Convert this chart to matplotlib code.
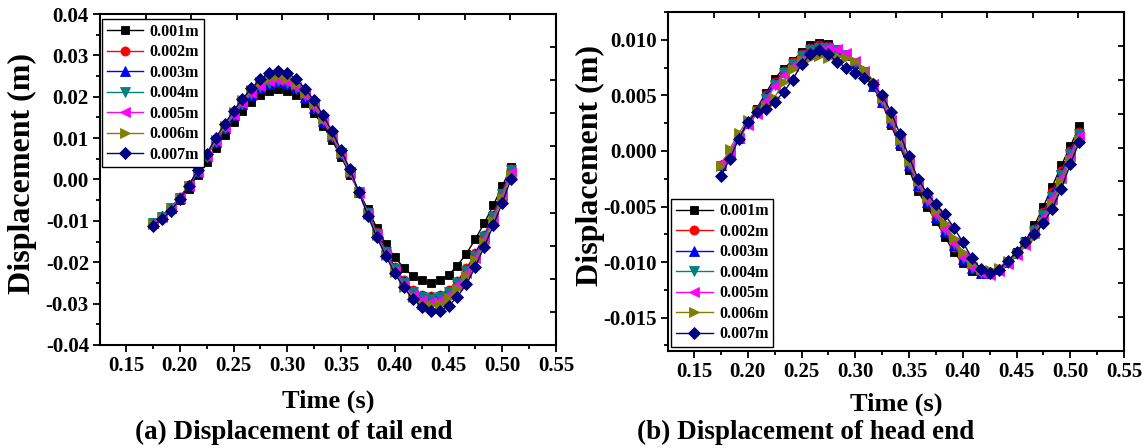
import matplotlib
matplotlib.use("Agg")
import matplotlib.pyplot as plt
from matplotlib.ticker import MultipleLocator, FuncFormatter

plt.rcParams['font.family'] = ['Liberation Serif', 'DejaVu Serif']
plt.rcParams['font.weight'] = 'bold'
plt.rcParams['axes.labelweight'] = 'bold'

# ---------------------------------------------------------------- data
time_s = [0.1750, 0.1833, 0.1917, 0.2000, 0.2083, 0.2167, 0.2250, 0.2333,
          0.2417, 0.2500, 0.2583, 0.2667, 0.2750, 0.2833, 0.2917, 0.3000,
          0.3083, 0.3167, 0.3250, 0.3333, 0.3417, 0.3500, 0.3583, 0.3667,
          0.3750, 0.3833, 0.3917, 0.4000, 0.4083, 0.4167, 0.4250, 0.4333,
          0.4417, 0.4500, 0.4583, 0.4667, 0.4750, 0.4833, 0.4917, 0.5000,
          0.5083]

series_labels = ['0.001m', '0.002m', '0.003m', '0.004m', '0.005m', '0.006m', '0.007m']

# tail end displacement (m)
tail_001 = [-0.0105, -0.0090, -0.0072, -0.0050, -0.0022, 0.0012, 0.0042, 0.0076,
            0.0108, 0.0139, 0.0166, 0.0188, 0.0204, 0.0215, 0.0218, 0.0215,
            0.0204, 0.0185, 0.0160, 0.0130, 0.0095, 0.0055, 0.0012, -0.0030,
            -0.0072, -0.0117, -0.0156, -0.0188, -0.0213, -0.0233, -0.0244, -0.0249,
            -0.0244, -0.0231, -0.0208, -0.0179, -0.0144, -0.0105, -0.0062, -0.0016,
            0.0030]
tail_002 = [-0.0104, -0.0088, -0.0068, -0.0043, -0.0013, 0.0021, 0.0057, 0.0092,
            0.0125, 0.0155, 0.0182, 0.0204, 0.0221, 0.0231, 0.0234, 0.0230,
            0.0218, 0.0198, 0.0172, 0.0140, 0.0103, 0.0062, 0.0018, -0.0030,
            -0.0079, -0.0127, -0.0172, -0.0211, -0.0243, -0.0266, -0.0278, -0.0282,
            -0.0279, -0.0266, -0.0245, -0.0215, -0.0178, -0.0134, -0.0085, -0.0032,
            0.0026]
tail_003 = [-0.0105, -0.0089, -0.0069, -0.0044, -0.0014, 0.0020, 0.0056, 0.0091,
            0.0124, 0.0155, 0.0182, 0.0205, 0.0222, 0.0232, 0.0236, 0.0232,
            0.0220, 0.0200, 0.0174, 0.0142, 0.0104, 0.0063, 0.0018, -0.0030,
            -0.0080, -0.0129, -0.0174, -0.0214, -0.0246, -0.0269, -0.0282, -0.0285,
            -0.0282, -0.0269, -0.0248, -0.0218, -0.0181, -0.0137, -0.0088, -0.0034,
            0.0024]
tail_004 = [-0.0106, -0.0090, -0.0070, -0.0045, -0.0015, 0.0019, 0.0055, 0.0091,
            0.0124, 0.0155, 0.0183, 0.0206, 0.0223, 0.0233, 0.0237, 0.0233,
            0.0221, 0.0201, 0.0175, 0.0143, 0.0105, 0.0063, 0.0018, -0.0031,
            -0.0081, -0.0131, -0.0176, -0.0216, -0.0249, -0.0272, -0.0285, -0.0289,
            -0.0285, -0.0272, -0.0251, -0.0221, -0.0184, -0.0140, -0.0090, -0.0036,
            0.0022]
tail_005 = [-0.0106, -0.0090, -0.0070, -0.0045, -0.0015, 0.0019, 0.0056, 0.0092,
            0.0126, 0.0157, 0.0185, 0.0209, 0.0227, 0.0237, 0.0240, 0.0236,
            0.0223, 0.0202, 0.0175, 0.0142, 0.0104, 0.0062, 0.0016, -0.0033,
            -0.0084, -0.0134, -0.0180, -0.0221, -0.0254, -0.0278, -0.0291, -0.0295,
            -0.0291, -0.0278, -0.0256, -0.0226, -0.0189, -0.0145, -0.0095, -0.0040,
            0.0018]
tail_006 = [-0.0108, -0.0092, -0.0072, -0.0046, -0.0015, 0.0020, 0.0058, 0.0095,
            0.0130, 0.0162, 0.0191, 0.0216, 0.0235, 0.0246, 0.0250, 0.0246,
            0.0232, 0.0210, 0.0182, 0.0147, 0.0108, 0.0065, 0.0019, -0.0031,
            -0.0084, -0.0135, -0.0182, -0.0224, -0.0259, -0.0285, -0.0300, -0.0304,
            -0.0300, -0.0287, -0.0264, -0.0234, -0.0195, -0.0150, -0.0100, -0.0045,
            0.0012]
tail_007 = [-0.0112, -0.0096, -0.0075, -0.0048, -0.0015, 0.0023, 0.0062, 0.0100,
            0.0134, 0.0166, 0.0195, 0.0220, 0.0243, 0.0257, 0.0263, 0.0258,
            0.0243, 0.0219, 0.0191, 0.0155, 0.0117, 0.0071, 0.0025, -0.0031,
            -0.0088, -0.0140, -0.0185, -0.0227, -0.0261, -0.0289, -0.0307, -0.0317,
            -0.0317, -0.0306, -0.0283, -0.0253, -0.0211, -0.0162, -0.0111, -0.0056,
            0.0002]

# head end displacement (m)
head_001 = [-0.0014, -0.0002, 0.0012, 0.0026, 0.0038, 0.0052, 0.0065, 0.0074,
            0.0081, 0.0089, 0.0095, 0.0097, 0.0096, 0.0092, 0.0086, 0.0078,
            0.0069, 0.0058, 0.0043, 0.0023, 0.0004, -0.0017, -0.0036, -0.0050,
            -0.0063, -0.0077, -0.0091, -0.0101, -0.0108, -0.0111, -0.0110, -0.0106,
            -0.0100, -0.0091, -0.0081, -0.0067, -0.0050, -0.0032, -0.0013, 0.0004,
            0.0022]
head_002 = [-0.0013, -0.0001, 0.0012, 0.0025, 0.0037, 0.0050, 0.0062, 0.0072,
            0.0080, 0.0087, 0.0093, 0.0095, 0.0094, 0.0091, 0.0086, 0.0079,
            0.0070, 0.0058, 0.0043, 0.0025, 0.0006, -0.0014, -0.0032, -0.0047,
            -0.0060, -0.0073, -0.0086, -0.0097, -0.0105, -0.0109, -0.0109, -0.0106,
            -0.0100, -0.0092, -0.0082, -0.0070, -0.0055, -0.0037, -0.0018, 0.0000,
            0.0017]
head_003 = [-0.0013, -0.0001, 0.0012, 0.0025, 0.0036, 0.0049, 0.0061, 0.0071,
            0.0079, 0.0086, 0.0092, 0.0094, 0.0094, 0.0091, 0.0086, 0.0079,
            0.0070, 0.0058, 0.0044, 0.0026, 0.0007, -0.0013, -0.0031, -0.0046,
            -0.0059, -0.0072, -0.0085, -0.0097, -0.0105, -0.0110, -0.0110, -0.0106,
            -0.0100, -0.0092, -0.0082, -0.0071, -0.0057, -0.0039, -0.0020, -0.0001,
            0.0016]
head_004 = [-0.0014, -0.0002, 0.0011, 0.0024, 0.0035, 0.0047, 0.0059, 0.0070,
            0.0078, 0.0085, 0.0091, 0.0093, 0.0093, 0.0091, 0.0086, 0.0079,
            0.0071, 0.0059, 0.0045, 0.0027, 0.0008, -0.0012, -0.0030, -0.0045,
            -0.0058, -0.0071, -0.0084, -0.0096, -0.0105, -0.0110, -0.0111, -0.0107,
            -0.0101, -0.0093, -0.0083, -0.0072, -0.0058, -0.0041, -0.0022, -0.0003,
            0.0015]
head_005 = [-0.0011, 0.0000, 0.0012, 0.0023, 0.0033, 0.0045, 0.0058, 0.0068,
            0.0076, 0.0083, 0.0088, 0.0091, 0.0093, 0.0092, 0.0088, 0.0081,
            0.0072, 0.0060, 0.0046, 0.0028, 0.0009, -0.0011, -0.0029, -0.0044,
            -0.0057, -0.0070, -0.0083, -0.0095, -0.0104, -0.0110, -0.0112, -0.0108,
            -0.0102, -0.0094, -0.0085, -0.0074, -0.0060, -0.0043, -0.0024, -0.0005,
            0.0013]
head_006 = [-0.0014, 0.0002, 0.0016, 0.0028, 0.0036, 0.0040, 0.0048, 0.0062,
            0.0074, 0.0082, 0.0084, 0.0085, 0.0084, 0.0085, 0.0084, 0.0081,
            0.0074, 0.0063, 0.0048, 0.0030, 0.0010, -0.0009, -0.0027, -0.0041,
            -0.0053, -0.0065, -0.0078, -0.0091, -0.0101, -0.0106, -0.0107, -0.0105,
            -0.0099, -0.0093, -0.0085, -0.0077, -0.0064, -0.0048, -0.0028, -0.0008,
            0.0010]
head_007 = [-0.0023, -0.0007, 0.0011, 0.0026, 0.0035, 0.0038, 0.0044, 0.0053,
            0.0064, 0.0078, 0.0087, 0.0091, 0.0087, 0.0080, 0.0075, 0.0070,
            0.0066, 0.0060, 0.0050, 0.0035, 0.0015, -0.0005, -0.0025, -0.0038,
            -0.0048, -0.0057, -0.0069, -0.0082, -0.0096, -0.0106, -0.0110, -0.0107,
            -0.0099, -0.0091, -0.0082, -0.0075, -0.0065, -0.0052, -0.0034, -0.0012,
            0.0008]

tail_series = [tail_001, tail_002, tail_003, tail_004, tail_005, tail_006, tail_007]
head_series = [head_001, head_002, head_003, head_004, head_005, head_006, head_007]

# ---------------------------------------------------------------- style
colors = ['#000000', '#ff0000', '#0000ff', '#008080', '#ff00ff', '#808000', '#000080']
markers = ['s', 'o', '^', 'v', '<', '>', 'D']
msizes = [6, 6.5, 7, 7, 7, 7, 6.5]

W, H = 1146, 448
fig = plt.figure(figsize=(W / 100, H / 100), dpi=100)


def box(x0, y0, x1, y1):
    return [x0 / W, 1 - y1 / H, (x1 - x0) / W, (y1 - y0) / H]


def draw(ax, data):
    for vals, lab, c, m, ms in zip(data, series_labels, colors, markers, msizes):
        ax.plot(time_s, vals, color=c, marker=m, markersize=ms, lw=1.0,
                markeredgewidth=0.6, markeredgecolor=c, label=lab)


def style(ax, ylim, ymaj, ymin, ydec):
    ax.set_xlim(0.1258, 0.55)
    ax.set_ylim(*ylim)
    ax.xaxis.set_major_locator(MultipleLocator(0.05))
    ax.xaxis.set_minor_locator(MultipleLocator(0.025))
    ax.yaxis.set_major_locator(MultipleLocator(ymaj))
    ax.yaxis.set_minor_locator(MultipleLocator(ymin))
    ax.xaxis.set_major_formatter(FuncFormatter(lambda v, p: f"{v:.2f}"))
    ax.yaxis.set_major_formatter(
        FuncFormatter(lambda v, p: f"{0.0 if abs(v) < 1e-9 else v:.{ydec}f}"))
    ax.tick_params(which='both', direction='out', top=False, right=False,
                   width=1.3, labelsize=15)
    ax.tick_params(which='major', length=5)
    ax.tick_params(axis='x', which='major', pad=3)
    ax.tick_params(axis='y', which='major', pad=3)
    ax.tick_params(which='minor', length=3)
    for s in ax.spines.values():
        s.set_linewidth(1.5)
    # plain inward ticks along the top and right frame
    top = ax.twiny()
    top.set_xlim(0, 10)
    top.set_xticks(range(1, 10))
    top.tick_params(axis='x', direction='in', length=4, width=1.3, labeltop=False)
    right = ax.twinx()
    right.set_ylim(0, 10)
    right.set_yticks(range(1, 10))
    right.tick_params(axis='y', direction='in', length=4, width=1.3, labelright=False)
    for t in (top, right):
        for s in t.spines.values():
            s.set_visible(False)


legend_kw = dict(frameon=True, fancybox=False, framealpha=1,
                 edgecolor='black', handlelength=2.3, handletextpad=0.4,
                 labelspacing=0.28, borderpad=0.3, borderaxespad=0,
                 prop={'weight': 'bold', 'size': 11.5})

# (a) tail end
ax1 = fig.add_axes(box(100, 14, 556, 345))
draw(ax1, tail_series)
leg1 = ax1.legend(loc='upper left', bbox_to_anchor=(0.004, 0.985), **legend_kw)
leg1.get_frame().set_linewidth(1.0)
style(ax1, (-0.04, 0.04), 0.01, 0.005, 2)

# (b) head end
ax2 = fig.add_axes(box(668, 12, 1124, 351))
draw(ax2, head_series)
leg2 = ax2.legend(loc='lower left', bbox_to_anchor=(0.0066, 0.012), **legend_kw)
leg2.get_frame().set_linewidth(1.0)
style(ax2, (-0.0180, 0.0125), 0.005, 0.0025, 3)

# axis titles and captions
fig.text(328 / W, 1 - 401 / H, 'Time (s)', ha='center', va='center', fontsize=19, fontweight='bold')
fig.text(896 / W, 1 - 404 / H, 'Time (s)', ha='center', va='center', fontsize=19, fontweight='bold')
fig.text(22 / W, 1 - 173 / H, 'Displacement (m)', rotation=90, ha='center', va='center',
         fontsize=23, fontweight='bold')
fig.text(590 / W, 1 - 166 / H, 'Displacement (m)', rotation=90, ha='center', va='center',
         fontsize=23, fontweight='bold')
fig.text(294 / W, 1 - 432 / H, '(a) Displacement of tail end', ha='center', va='center',
         fontsize=19.5, fontweight='bold')
fig.text(806 / W, 1 - 432 / H, '(b) Displacement of head end', ha='center', va='center',
         fontsize=19.5, fontweight='bold')

fig.savefig('out.png', dpi=100)
